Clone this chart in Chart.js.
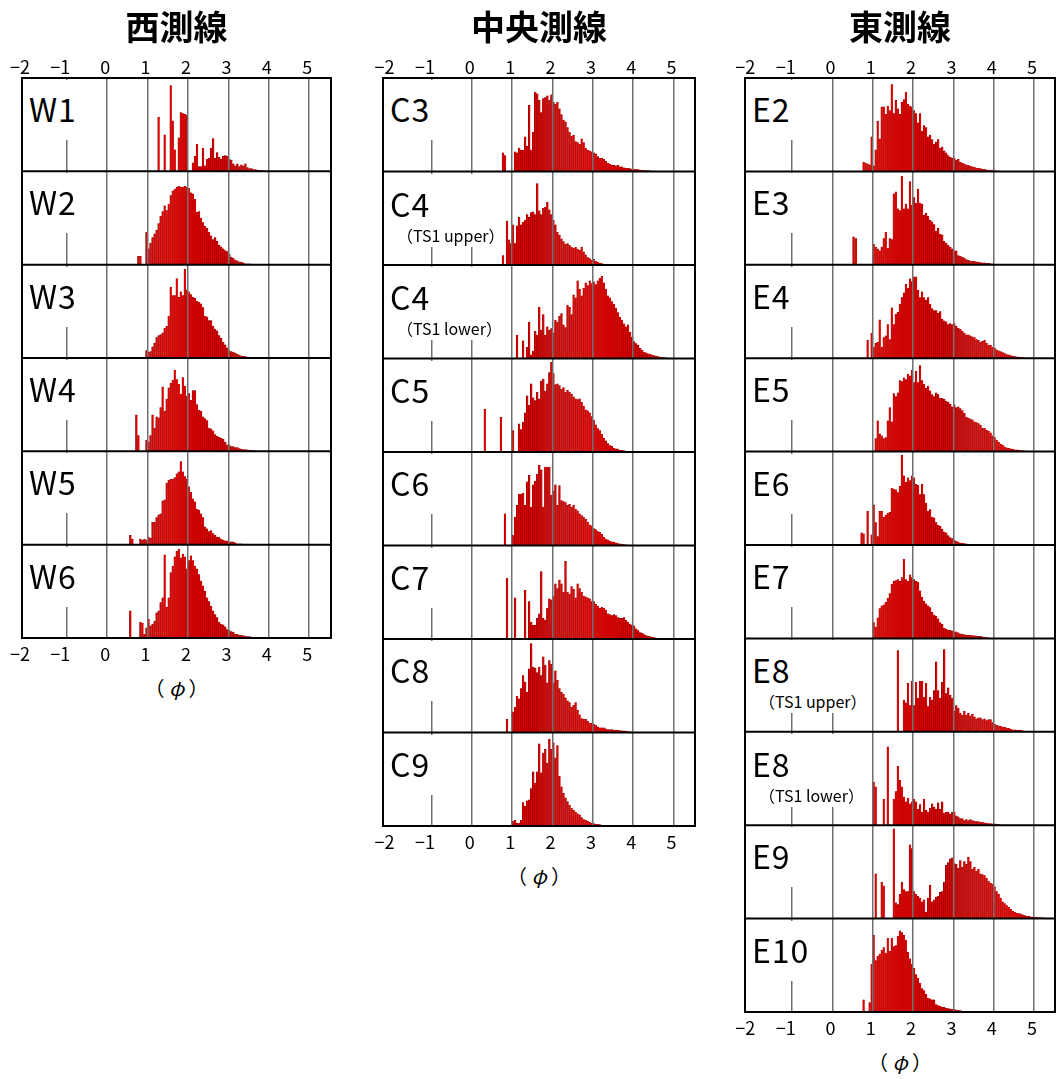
<!DOCTYPE html>
<html>
<head>
<meta charset="utf-8">
<script src="https://cdn.jsdelivr.net/npm/chart.js@4.4.1/dist/chart.umd.min.js"></script>
<style>
  body { margin: 0; background: #fff; width: 1057px; height: 1079px; position: relative; overflow: hidden;
         font-family: "Noto Sans CJK JP", "Noto Sans", sans-serif; color: #000; }
  .col { position: absolute; }
  .title { position: absolute; font-size: 34px; font-weight: bold; transform: translateX(-50%); white-space: nowrap; line-height: 1; }
  .unit { position: absolute; font-size: 20px; transform: translateX(-50%); white-space: nowrap; line-height: 1; }
  .lab { position: absolute; background: #fff; padding: 13px 7px 17px 5px; white-space: nowrap; }
  .lab.noted { padding: 14px 0 3px 5px; }
  .lab .main { font-size: 32px; line-height: 30px; letter-spacing: 1px; }
  .lab .sub { font-size: 16px; line-height: 17px; margin-top: 9px; margin-left: 7px; }
</style>
</head>
<body>
<script>
// phi axis
const phiTicks = [-2, -1, 0, 1, 2, 3, 4, 5];
const binWidth = 0.05;

// 西測線
const westNames = ['W1', 'W2', 'W3', 'W4', 'W5', 'W6'];
const westStart = [1.25, 0.75, 0.95, 0.70, 0.55, 0.55];
const W1 = [58,0,0,39,0,0,92,54,23,0,36,63,62,61,60,0,0,9,16,29,5,5,25,6,13,14,25,35,14,20,15,13,16,17,16,13,12,8,6,8,5,7,6,8,4,3,3,2,2,1,1,1,0.5];
const W2 = [9,9,0,0,35,17,23,29,33,37,44,52,57,63,58,65,74,79,81,83,84,83,83,84,83,82,77,76,70,56,57,50,45,41,39,35,31,27,29,25,21,19,17,15,14,11,8,7,5,4,3,2.5,2,1,1,1,0.5,0.5];
const W3 = [8,6,7,12,16,22,24,25,27,32,34,45,76,67,67,85,65,71,67,95,73,71,68,65,64,61,60,58,54,45,44,40,40,34,31,29,24,21,17,14,11,8,7,6,5,4,3,2,2,1.5,1,1,0.7,0.5];
const W4 = [39,17,0,0,0,12,10,17,39,25,37,36,47,69,43,56,68,73,76,87,77,72,61,79,70,59,62,55,65,65,50,44,43,37,35,33,25,24,22,18,16,15,14,13,10,7,7,5,5,4,4,3,2.5,2,2,1.5,1,1,0.7,0.5];
const W5 = [10,6,0,0,0,6,5,6,5,8,7,24,24,29,32,33,47,48,66,69,70,70,72,76,78,89,78,73,70,62,56,49,46,38,37,33,29,19,17,14,15,12,10,8,8,6,5,4,4,3,3,3,2,1,1,1,0.7,0.5,0.5];
const W6 = [29,0,0,0,0,17,16,4,11,20,13,15,18,27,29,38,43,89,33,43,70,77,87,93,95,86,90,87,74,83,88,83,77,74,68,61,56,50,43,39,34,29,25,22,17,15,14,12,9,8,7,6,4,4,3,3,2.5,2,1.5,1.5,1,1,1,0.7,0.5,0.5];

// 中央測線
const centralNames = ['C3', 'C4', 'C4', 'C5', 'C6', 'C7', 'C8', 'C9'];
const centralNotes = ['', '（TS1 upper）', '（TS1 lower）', '', '', '', '', ''];
const centralStart = [0.75, 0.75, 1.10, 0.30, 0.80, 0.85, 0.85, 1.00];
const C3 = [20,17,0,0,0,0,21,20,25,23,23,37,27,71,23,42,85,83,76,63,78,79,81,76,82,74,72,74,67,61,55,53,47,42,38,39,32,31,29,35,31,25,23,22,21,20,19,16,14,14,13,11,9,8,7,6.5,6,6.5,5,5,4,3.5,3.5,3,2.5,2.5,2,2,1.5,1.5,1,1,1,0.7,0.5,0.5];
const C4u = [10,0,47,27,23,43,23,42,51,43,46,48,54,51,56,57,54,87,58,54,61,62,67,59,54,48,43,35,32,28,25,22,23,21,19,18,19,17,16,19,14,11,8,7,5,6,4,3,2,1.5,1,1,0.7,0.5,0.5];
const C4l = [25,0,0,19,0,12,39,4,8,29,25,55,30,47,25,34,30,32,27,41,39,45,48,36,33,57,55,47,68,65,83,74,67,75,81,78,83,80,82,79,83,86,88,81,74,67,65,61,58,54,49,44,41,37,34,36,28,23,18,16,14,11,9,7,6,5,4.4,3.6,3,2.5,2,1.5,1.2,1,0.7,0.5];
const C5 = [46,0,0,0,0,0,0,0,37,0,0,0,0,0,23,0,0,30,24,32,42,60,50,73,58,55,64,57,76,78,65,73,85,96,84,72,73,71,67,69,64,66,64,62,59,57,56,57,53,49,45,44,42,38,34,29,25,23,19,15,12,9,7,6,4,3.5,3,2,1.8,1.4,1,0.7,0.5];
const C6 = [34,0,0,0,11,30,43,55,55,56,43,68,75,41,65,69,76,86,81,41,84,84,84,54,58,65,43,64,48,47,46,43,44,41,43,39,37,34,32,30,28,25,22,21,18,17,15,14,12,9,7,6,4.7,4,3.6,2.9,2,1.8,1.5,1,0.7,0.5,0.5];
const C7 = [65,0,0,0,44,0,0,0,0,52,0,40,18,15,15,22,27,72,22,20,33,43,42,46,59,54,63,59,50,83,50,48,56,53,44,59,54,50,46,45,44,43,40,40,37,35,33,34,33,31,27,26,25,26,25,23,22,22,23,20,18,16,15,14,11,9,7,6,4.7,3.6,2.9,2.5,2,1.5,1,0.7,0.5];
const C8 = [14,0,0,22,27,39,36,47,61,54,43,68,95,70,69,64,70,61,81,72,53,77,73,53,66,56,47,43,41,37,34,32,27,29,32,24,19,15,14,14,12,10,10,9,8,6,5,5,5,4,3,3,3,2.5,2.5,2.5,2,1.8,1.8,1.4,1,0.7,0.5];
const C9 = [5,6,3,3,6,25,21,27,28,40,58,46,58,88,57,78,82,67,93,82,89,73,86,53,42,35,30,26,22,19,17,15,13,12,9,7,6,5,4,3,2.5,2,1.8,1.4,1,0.7,0.5,0.5];

// 東測線
const eastNames = ['E2', 'E3', 'E4', 'E5', 'E6', 'E7', 'E8', 'E8', 'E9', 'E10'];
const eastNotes = ['', '', '', '', '', '', '（TS1 upper）', '（TS1 lower）', '', ''];
const eastStart = [0.75, 0.50, 0.85, 1.05, 0.70, 1.00, 1.60, 1.00, 1.05, 0.75];
const E2 = [10,9,8,7,37,6,23,54,35,69,69,61,70,65,93,62,76,67,61,74,77,85,72,70,69,65,62,52,62,43,49,47,37,39,34,29,31,34,25,26,22,20,17,15,14,14,12,13,10,9,8,7,6.5,5.4,5,4.3,3.6,3.6,2.9,2.5,2.2,1.8,1.4,1.4,1,1,0.5,0.5];
const E3 = [30,28,0,0,0,0,0,0,0,0,22,19,17,15,19,28,35,18,28,27,76,78,60,58,95,60,65,60,89,64,72,66,81,66,65,53,55,52,48,46,43,36,39,33,32,25,23,21,19,17,15,15,10,9,8,7,5.5,4.7,4,3.6,3.6,3.3,2.9,2.5,2.2,2.2,1.8,1.5,1.2,1,0.7,0.5,0.5];
const E4 = [19,0,27,12,16,17,41,12,22,24,36,20,54,36,47,49,58,65,70,79,75,85,82,87,87,73,65,71,65,62,65,58,53,51,51,48,50,42,40,39,36,37,36,37,34,32,31,29,27,25,25,24,23,22,20,19,17,18,19,16,14,14,12,11,9,8,7,6,5,4,3.6,2.9,2.2,1.8,1.5,1.2,1,0.7,0.5];
const E5 = [14,33,19,17,14,15,33,47,32,62,59,63,76,75,79,77,83,81,87,74,86,74,92,76,72,68,70,65,61,59,63,61,57,57,56,54,53,51,48,50,47,48,46,44,41,37,36,35,34,32,31,30,28,25,25,23,22,20,17,15,12,10,8,7,5,4,3.6,2.9,2.5,2,2,1.5,1.2,1,0.7,0.5,0.5];
const E6 = [13,12,0,36,0,11,43,24,9,36,36,30,32,34,35,61,60,59,56,63,96,74,67,72,69,74,72,65,64,54,65,54,45,36,38,30,29,24,21,20,17,14,13,10,8,7,5,4,3,2.2,1.8,1.5,1.2,1,0.7,0.5];
const E7 = [17,12,22,32,35,36,39,43,48,58,61,62,63,61,65,85,63,61,68,65,63,61,60,51,44,40,37,35,33,28,25,24,21,17,15,11,10,9,9,8,7,7,6,5,4.4,4,3.6,3.6,3.3,2.9,2.9,2.5,2.2,2.2,1.8,1.5,1,0.7];
const E8u = [87,0,0,34,31,52,28,54,28,53,36,54,54,37,52,27,37,34,44,75,44,36,53,88,41,47,39,36,22,28,25,20,18,22,18,20,17,19,16,14,15,15,13,14,12,13,13,10,8,7,6.5,6,5,5,4,4,3,2.2,2.2,1.8,1.8,1.5,1,0.5];
const E8l = [46,41,0,0,0,28,0,84,0,0,28,36,63,48,41,30,25,29,23,25,28,25,17,22,14,28,16,14,18,23,19,17,24,17,25,13,14,14,12,14,14,10,9,7,7,5,6,5,6,5,4.5,4,4,3,3,2.5,2.2,1.8,1.8,1.5,1.5,1,0.7,0.5];
const E9 = [48,0,0,39,35,0,0,0,0,96,17,15,26,39,31,29,29,79,75,29,26,24,22,18,20,7,22,36,18,20,23,24,28,29,39,57,60,64,65,59,58,54,62,55,61,58,66,61,53,55,51,53,48,47,46,43,40,38,37,34,29,26,22,18,16,14,12,10,8,7,6,5.5,5,4,3.3,2.6,2.6,1.8,1.8,1.5,1.5,1.1,1.1,0.7,0.7,0.5,0.5,0.3,0.3];
const E10 = [13,0,0,10,51,82,55,60,62,66,69,63,79,65,79,70,71,81,87,85,82,77,64,57,51,47,40,36,31,25,23,19,15,14,13,13,8,7,6,5,5,4,3.6,3.3,2.9,2.6,2.2,1.8,1.5,1.1,0.7,0.5];

Chart.defaults.font.family = '"Noto Sans CJK JP", "Noto Sans", sans-serif';
Chart.defaults.color = '#000';

const columns = [
  { title: '西測線', names: westNames, notes: westNames.map(() => ''), starts: westStart,
    series: [W1, W2, W3, W4, W5, W6],
    left: 22, right: 331, top: 78, height: 560, xMin: -2.11, xMax: 5.54 },
  { title: '中央測線', names: centralNames, notes: centralNotes, starts: centralStart,
    series: [C3, C4u, C4l, C5, C6, C7, C8, C9],
    left: 383, right: 695, top: 78, height: 748, xMin: -2.20, xMax: 5.53 },
  { title: '東測線', names: eastNames, notes: eastNotes, starts: eastStart,
    series: [E2, E3, E4, E5, E6, E7, E8u, E8l, E9, E10],
    left: 745, right: 1055, top: 78, height: 934, xMin: -2.17, xMax: 5.52 }
];

const padTop = 30, padBottom = 34, padSide = 18;

function binPoints(start, values) {
  return values.map((v, i) => ({ x: Math.round((start + (i + 0.5) * binWidth) * 1000) / 1000, y: v }));
}

// the digit sits on the tick, the minus sign hangs to the left
function tickText(v) {
  return v < 0 ? '\u2212' + Math.abs(v) + '\u2002' : String(v);
}

// black frame and panel separators
const framePlugin = {
  id: 'frame',
  afterDraw(chart) {
    const { ctx, chartArea: a } = chart;
    ctx.save();
    ctx.strokeStyle = '#000';
    ctx.lineWidth = 2;
    Object.values(chart.scales).filter(s => s.axis === 'y').forEach(s => {
      ctx.beginPath();
      ctx.moveTo(a.left, s.bottom);
      ctx.lineTo(a.right, s.bottom);
      ctx.stroke();
    });
    ctx.strokeRect(a.left, a.top, a.right - a.left, a.bottom - a.top);
    ctx.restore();
  }
};

function xAxis(col, position, showGrid, size) {
  return {
    type: 'linear',
    position: position,
    min: col.xMin,
    max: col.xMax,
    offset: false,
    afterBuildTicks: ax => { ax.ticks = phiTicks.map(v => ({ value: v })); },
    afterFit: s => { s.height = size; },
    grid: { display: showGrid, offset: false, lineWidth: 1.5, drawTicks: false, z: 1,
            color: c => (c.tick && c.tick.value === phiTicks[0]) ? 'rgba(0,0,0,0)' : '#707070' },
    border: { display: false },
    ticks: { font: { size: 18 }, color: '#000', padding: position === 'top' ? 0 : 5, labelOffset: -2,
             maxRotation: 0, autoSkip: false, callback: v => tickText(v) }
  };
}

columns.forEach(col => {
  const n = col.series.length;
  const w = col.right - col.left + 2 * padSide;
  const h = col.height + padTop + padBottom;

  const wrap = document.createElement('div');
  wrap.className = 'col';
  wrap.style.left = (col.left - padSide) + 'px';
  wrap.style.top = (col.top - padTop) + 'px';
  wrap.style.width = w + 'px';
  wrap.style.height = h + 'px';
  const canvas = document.createElement('canvas');
  canvas.width = w;
  canvas.height = h;
  wrap.appendChild(canvas);
  document.body.appendChild(wrap);

  const scales = { x: xAxis(col, 'bottom', true, padBottom), x2: xAxis(col, 'top', false, padTop) };
  col.series.forEach((s, i) => {
    scales['y' + i] = { type: 'linear', display: false, position: 'left', stack: 'panels',
                        stackWeight: 1, weight: n - i, min: 0, max: 100, stacked: false };
  });

  // every panel shares one bar slot so each bin spans its full 0.05 phi width
  const datasets = col.series.map((s, i) => ({
    data: binPoints(col.starts[i], s),
    xAxisID: 'x',
    yAxisID: 'y' + i,
    stack: 'bins',
    barThickness: 'flex',
    categoryPercentage: 1,
    barPercentage: 1,
    backgroundColor: '#dd0000',
    borderColor: '#680000',
    borderWidth: { left: 0.5, top: 0.3, right: 0, bottom: 0 }
  }));

  const chart = new Chart(canvas, {
    type: 'bar',
    data: { datasets },
    options: {
      responsive: false,
      animation: false,
      devicePixelRatio: 1,
      layout: { padding: { left: padSide, right: padSide, top: 0, bottom: 0 } },
      plugins: { legend: { display: false }, tooltip: { enabled: false } },
      scales
    },
    plugins: [framePlugin]
  });

  // title and unit label
  const a = chart.chartArea;
  const cx = col.left - padSide + (a.left + a.right) / 2;
  const t = document.createElement('div');
  t.className = 'title';
  t.textContent = col.title;
  t.style.left = cx + 'px';
  t.style.top = '9px';
  document.body.appendChild(t);

  const u = document.createElement('div');
  u.className = 'unit';
  u.innerHTML = '（ <i>φ</i> ）';
  u.style.left = cx + 'px';
  u.style.top = (col.top + col.height + 40) + 'px';
  document.body.appendChild(u);

  // panel names
  col.names.forEach((name, i) => {
    const s = chart.scales['y' + i];
    const d = document.createElement('div');
    d.className = col.notes[i] ? 'lab noted' : 'lab';
    d.style.left = (col.left - padSide + a.left + 2) + 'px';
    d.style.top = (col.top - padTop + s.top + 2) + 'px';
    d.innerHTML = '<div class="main">' + name + '</div>' +
      (col.notes[i] ? '<div class="sub">' + col.notes[i] + '</div>' : '');
    document.body.appendChild(d);
  });
});
</script>
</body>
</html>
